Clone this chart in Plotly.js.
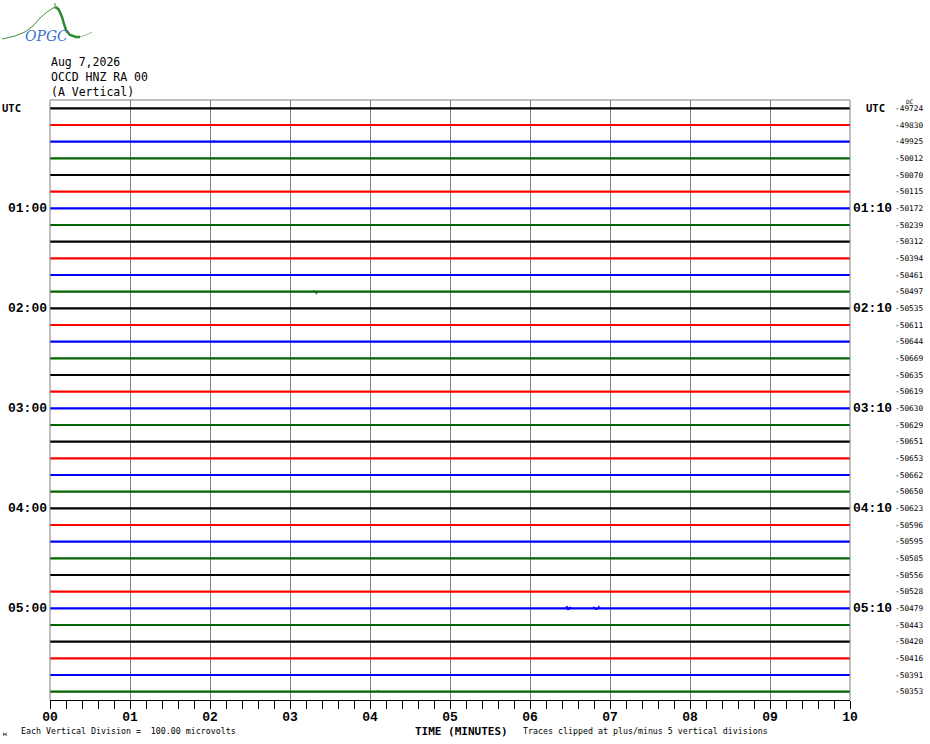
<!DOCTYPE html>
<html>
<head>
<meta charset="utf-8">
<script src="https://cdn.plot.ly/plotly-3.0.1.min.js"></script>
<style>
  html, body { margin: 0; padding: 0; background: #ffffff; }
  #chart { width: 930px; height: 744px; }
</style>
</head>
<body>
<div id="chart"></div>
<script>
// ---- data ----
const headerLines = ["Aug 7,2026", "OCCD HNZ RA 00", "(A Vertical)"];
const traceColors = ["#000000", "#ff0000", "#0000ff", "#006400"];
const rowCount = 36;
const minuteTicks = [0, 1, 2, 3, 4, 5, 6, 7, 8, 9, 10];
const minuteLabels = ["00", "01", "02", "03", "04", "05", "06", "07", "08", "09", "10"];
const leftHourLabels = ["UTC", "01:00", "02:00", "03:00", "04:00", "05:00"];
const rightHourLabels = ["UTC", "01:10", "02:10", "03:10", "04:10", "05:10"];
const dcValues = [-49724, -49830, -49925, -50012, -50070, -50115, -50172, -50239, -50312,
  -50394, -50461, -50497, -50535, -50611, -50644, -50669, -50635, -50619, -50630, -50629,
  -50651, -50653, -50662, -50650, -50623, -50596, -50595, -50585, -50556, -50528, -50479,
  -50443, -50420, -50416, -50391, -50353];
// small visible bursts (row index, minute, deflection in row units)
const burstRow  = [30, 30, 30, 30, 30, 30, 11, 11, 2, 35];
const burstTime = [6.46, 6.48, 6.50, 6.80, 6.83, 6.86, 3.30, 3.33, 2.05, 4.10];
const burstAmp  = [0.10, -0.08, 0.06, 0.07, -0.08, 0.05, 0.06, -0.05, 0.05, 0.05];
const bottomNote = "Each Vertical Division =  100.00 microvolts";
const clipNote = "Traces clipped at plus/minus 5 vertical divisions";
const xTitle = "TIME (MINUTES)";

// ---- geometry helpers (pixels -> paper) ----
const L = 50, R = 850, T = 100, B = 700;
const px = x => (x - L) / (R - L);
const py = y => (B - y) / (B - T);

// ---- traces ----
const traces = [];
for (let i = 0; i < rowCount; i++) {
  const base = i + 0.5;
  const pts = [[0, 0], [10, 0]];
  for (let k = 0; k < burstRow.length; k++) {
    if (burstRow[k] === i) {
      pts.push([burstTime[k] - 0.006, 0]);
      pts.push([burstTime[k], burstAmp[k]]);
      pts.push([burstTime[k] + 0.006, 0]);
    }
  }
  pts.sort((a, b) => a[0] - b[0]);
  traces.push({
    type: "scatter", mode: "lines",
    x: pts.map(p => p[0]),
    y: pts.map(p => base - p[1]),
    line: { color: traceColors[i % 4], width: 2.2 },
    hoverinfo: "skip", showlegend: false
  });
}

// ---- annotations ----
const ann = [];
const mono = "DejaVu Sans Mono, monospace";
const monoB = "Liberation Mono, Courier New, monospace";
headerLines.forEach((t, k) => {
  ann.push({ text: t, xref: "paper", yref: "paper", x: px(49), y: py(62 + 15 * k),
    xanchor: "left", yanchor: "middle", showarrow: false,
    font: { family: mono, size: 11.5, color: "#000" } });
});
leftHourLabels.forEach((t, k) => {
  const isUtc = t === "UTC";
  ann.push({ text: "<b>" + t + "</b>", xref: "paper", yref: "y",
    x: isUtc ? px(0) : px(49), y: k * 6 + 0.5,
    xanchor: isUtc ? "left" : "right", yanchor: "middle", showarrow: false,
    font: { family: isUtc ? mono : monoB, size: isUtc ? 10.5 : 13, color: "#000" } });
});
rightHourLabels.forEach((t, k) => {
  const isUtc = t === "UTC";
  ann.push({ text: "<b>" + t + "</b>", xref: "paper", yref: "y",
    x: isUtc ? px(864) : px(851), y: k * 6 + 0.5,
    xanchor: "left", yanchor: "middle", showarrow: false,
    font: { family: isUtc ? mono : monoB, size: isUtc ? 10.5 : 13, color: "#000" } });
});
dcValues.forEach((v, i) => {
  ann.push({ text: String(v), xref: "paper", yref: "y", x: px(925), y: i + 0.5,
    xanchor: "right", yanchor: "middle", showarrow: false,
    font: { family: mono, size: 7.8, color: "#000" } });
});
ann.push({ text: "DC", xref: "paper", yref: "paper", x: px(910), y: py(102),
  xanchor: "center", yanchor: "middle", showarrow: false,
  font: { family: mono, size: 6, color: "#000" } });
ann.push({ text: bottomNote, xref: "paper", yref: "paper", x: px(19), y: py(731),
  xanchor: "left", yanchor: "middle", showarrow: false,
  font: { family: mono, size: 8.3, color: "#000" } });
ann.push({ text: "м", xref: "paper", yref: "paper", x: px(5), y: py(733),
  xanchor: "center", yanchor: "middle", showarrow: false,
  font: { family: mono, size: 6, color: "#000" } });
ann.push({ text: "<b>" + xTitle + "</b>", xref: "paper", yref: "paper", x: px(413), y: py(731),
  xanchor: "left", yanchor: "middle", showarrow: false,
  font: { family: mono, size: 11, color: "#000" } });
ann.push({ text: clipNote, xref: "paper", yref: "paper", x: px(521), y: py(731),
  xanchor: "left", yanchor: "middle", showarrow: false,
  font: { family: mono, size: 8.3, color: "#000" } });
// logo text
ann.push({ text: "<i>OPGC</i>", xref: "paper", yref: "paper", x: px(46), y: py(36),
  xanchor: "center", yanchor: "middle", showarrow: false,
  font: { family: "DejaVu Serif, serif", size: 14, color: "#3a6fd0" } });

// ---- shapes ----
const logoThin = [[2, 39], [15, 36], [25, 32], [33, 26], [40, 18], [47, 12], [53, 8], [56, 7]];
const logoThick = [[56, 7], [59, 10], [62, 17], [64, 24], [66, 30], [70, 35], [76, 37], [80, 37]];
const logoTail = [[80, 37], [86, 35], [92, 32]];
const pathOf = arr => arr.map((p, k) => (k ? "L" : "M") + px(p[0]) + "," + py(p[1])).join(" ");
const shapes = [
  { type: "line", xref: "paper", yref: "paper", x0: 0, x1: 1, y0: 1, y1: 1,
    line: { color: "#808080", width: 1 } },
  { type: "line", xref: "paper", yref: "paper", x0: 0, x1: 0, y0: 0, y1: 1,
    line: { color: "#808080", width: 1 } },
  { type: "line", xref: "paper", yref: "paper", x0: 1, x1: 1, y0: 0, y1: 1,
    line: { color: "#808080", width: 1 } },
  { type: "path", xref: "paper", yref: "paper", path: pathOf(logoThin),
    line: { color: "#3d8f3d", width: 1 } },
  { type: "line", xref: "paper", yref: "paper", x0: px(55), x1: px(55), y0: py(3), y1: py(9),
    line: { color: "#3d8f3d", width: 1 } },
  { type: "path", xref: "paper", yref: "paper", path: pathOf(logoThick),
    line: { color: "#2f8a2f", width: 2.5 } },
  { type: "path", xref: "paper", yref: "paper", path: pathOf(logoTail),
    line: { color: "#8fbf8f", width: 1 } }
];

const layout = {
  width: 930, height: 744,
  margin: { l: L, r: 930 - R, t: T, b: 744 - B, pad: 0 },
  paper_bgcolor: "#ffffff", plot_bgcolor: "#ffffff",
  showlegend: false,
  xaxis: {
    range: [0, 10], tickmode: "array", tickvals: minuteTicks, ticktext: minuteLabels,
    ticks: "outside", ticklen: 8, tickwidth: 1, tickcolor: "#000",
    ticklabelstandoff: -4,
    showline: true, linecolor: "#000", linewidth: 1,
    showgrid: true, gridcolor: "#808080", gridwidth: 1, zeroline: false,
    tickfont: { family: monoB, size: 13, color: "#000", weight: "bold" },
    minor: { dtick: 0.2, ticks: "outside", ticklen: 8, tickcolor: "#000", showgrid: false },
    fixedrange: true
  },
  yaxis: {
    range: [rowCount, 0], showticklabels: false, ticks: "", showgrid: false,
    zeroline: false, showline: false, fixedrange: true
  },
  annotations: ann,
  shapes: shapes
};

Plotly.newPlot("chart", traces, layout, { displayModeBar: false, staticPlot: true });
</script>
</body>
</html>
